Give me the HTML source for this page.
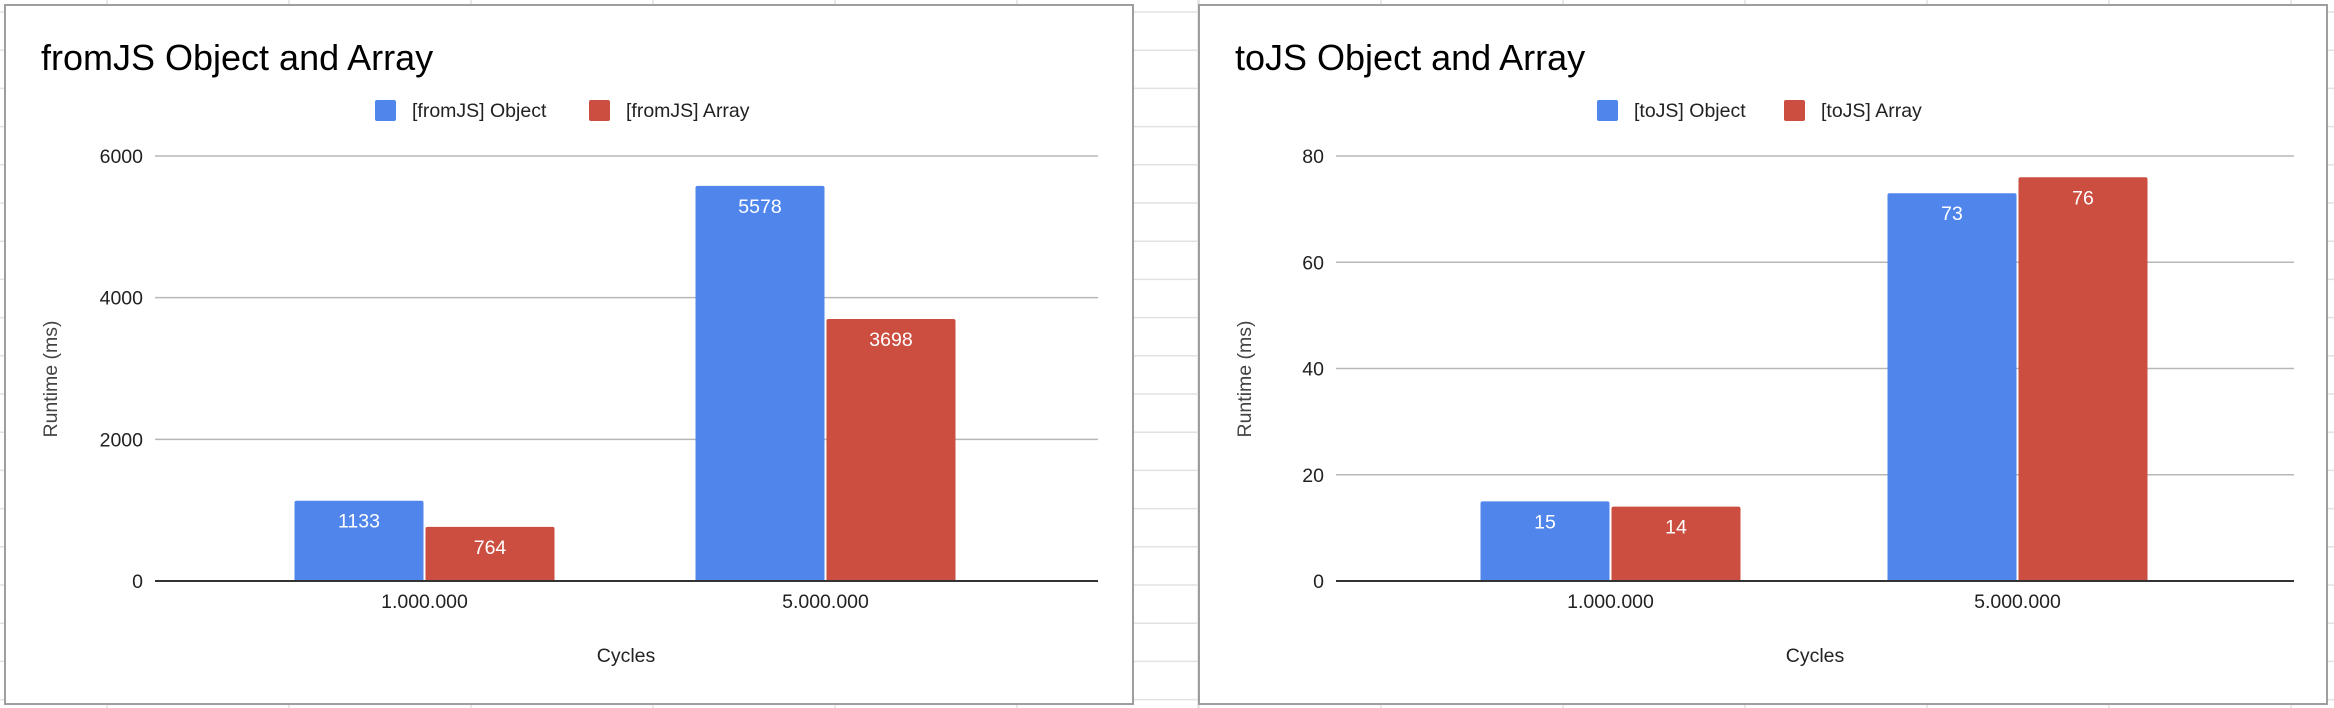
<!DOCTYPE html>
<html><head><meta charset="utf-8">
<style>
html,body{margin:0;padding:0;background:#fff;}
svg{display:block;font-family:"Liberation Sans",Arial,sans-serif;}
</style></head>
<body>
<svg id="svg" width="2334" height="708" viewBox="0 0 2334 708" xmlns="http://www.w3.org/2000/svg">
<g id="sheetgrid"></g>
</svg>
<script>
const categories = ["1.000.000", "5.000.000"];
const fromObject = [1133, 5578];
const fromArray = [764, 3698];
const toObject = [15, 73];
const toArray = [14, 76];
const fromTicks = [0, 2000, 4000, 6000];
const toTicks = [0, 20, 40, 60, 80];
const fromLegend = ["[fromJS] Object", "[fromJS] Array"];
const toLegend = ["[toJS] Object", "[toJS] Array"];

const NS = "http://www.w3.org/2000/svg";
const svg = document.getElementById('svg');
function mk(tag, attrs, parent, text){
  const e = document.createElementNS(NS, tag);
  for (const k in attrs) e.setAttribute(k, attrs[k]);
  if (text !== undefined) e.textContent = text;
  (parent || svg).appendChild(e);
  return e;
}
// spreadsheet background grid
const sg = document.getElementById('sheetgrid');
for (let y = 12; y < 708; y += 38.2) mk('line', {x1:0, x2:2334, y1:y, y2:y, stroke:'#e2e2e2', 'stroke-width':1.5}, sg);
for (let x = 107; x < 2334; x += 182) mk('line', {x1:x, x2:x, y1:0, y2:708, stroke:'#e2e2e2', 'stroke-width':1.5}, sg);
mk('line', {x1:1198, x2:1198, y1:0, y2:708, stroke:'#e2e2e2', 'stroke-width':1.5}, sg);

const BLUE = '#5086ec', RED = '#cb4e40';

function chart(cfg){
  const g = mk('g', {});
  
  
  const fr = mk('rect', {x:cfg.fx, y:5, width:cfg.fw, height:699, fill:'#fff', stroke:'#9e9e9e', 'stroke-width':2}, g);
  
  
  const t = mk('text', {x:cfg.titleX, y:70, 'font-size':36, fill:'#000'}, g, cfg.title);
  
  
  // legend
  cfg.legend.forEach((lab, i) => {
    const lg = mk('g', {}, g);
    
    
    mk('rect', {x:cfg.legX[i], y:100, width:21, height:21, rx:2, fill:i ? RED : BLUE}, lg);
    mk('text', {x:cfg.legX[i] + 37, y:117, 'font-size':19.5, fill:'#222'}, lg, lab);
  });
  const y0 = 581, yTop = 156;
  const maxV = cfg.ticks[cfg.ticks.length - 1];
  const yScale = v => y0 - (v / maxV) * (y0 - yTop);
  const step = (cfg.bx1 - cfg.bx0) / categories.length;
  const xCenter = i => cfg.bx0 + (i + 0.5) * step;
  const bw = 129, gap = 2;
  // gridlines and ticks
  cfg.ticks.forEach(tv => {
    const y = yScale(tv);
    const l = mk('line', {x1:cfg.gx0, x2:cfg.gx1, y1:y, y2:y, stroke:tv === 0 ? '#333' : '#b7b7b7', 'stroke-width':tv === 0 ? 2 : 1.5}, g);
    
    
    const tl = mk('text', {x:cfg.gx0 - 12, y:y + 7, 'font-size':19.5, 'text-anchor':'end', fill:'#222'}, g, String(tv));
    
    
  });
  // bars
  [cfg.s1, cfg.s2].forEach((series, si) => {
    series.forEach((v, i) => {
      const x = si === 0 ? xCenter(i) - gap/2 - bw : xCenter(i) + gap/2;
      const y = yScale(v);
      const b = mk('path', {d:`M${x},${y0} V${y+2} Q${x},${y} ${x+2},${y} H${x+bw-2} Q${x+bw},${y} ${x+bw},${y+2} V${y0} Z`, fill:si ? RED : BLUE}, g);
      
      
      const vl = mk('text', {x:x + bw/2, y:y + 27, 'font-size':19.5, 'text-anchor':'middle', fill:'#fff'}, g, String(v));
      
      
    });
  });
  // redraw baseline on top
  mk('line', {x1:cfg.gx0, x2:cfg.gx1, y1:y0, y2:y0, stroke:'#333', 'stroke-width':2}, g);
  categories.forEach((c, i) => {
    const xl = mk('text', {x:xCenter(i), y:608, 'font-size':19.5, 'text-anchor':'middle', fill:'#222'}, g, c);
    
    
  });
  const xt = mk('text', {x:cfg.cyclesX, y:662, 'font-size':19.5, 'text-anchor':'middle', fill:'#222'}, g, 'Cycles');
  
  
  const yt = mk('text', {x:0, y:0, 'font-size':19.5, 'text-anchor':'middle', fill:'#444', transform:`translate(${cfg.ytX},379) rotate(-90)`}, g, 'Runtime (ms)');
  
  
}

chart({name:'fromjs-chart', fx:5, fw:1128, title:'fromJS Object and Array', titleX:41,
  legend:fromLegend, legX:[375, 589], ticks:fromTicks, gx0:155, gx1:1098, bx0:224, bx1:1026,
  s1:fromObject, s2:fromArray, cyclesX:626, ytX:57});
chart({name:'tojs-chart', fx:1199, fw:1128, title:'toJS Object and Array', titleX:1235,
  legend:toLegend, legX:[1597, 1784], ticks:toTicks, gx0:1336, gx1:2294, bx0:1407, bx1:2221,
  s1:toObject, s2:toArray, cyclesX:1815, ytX:1251});
</script>
</body></html>
